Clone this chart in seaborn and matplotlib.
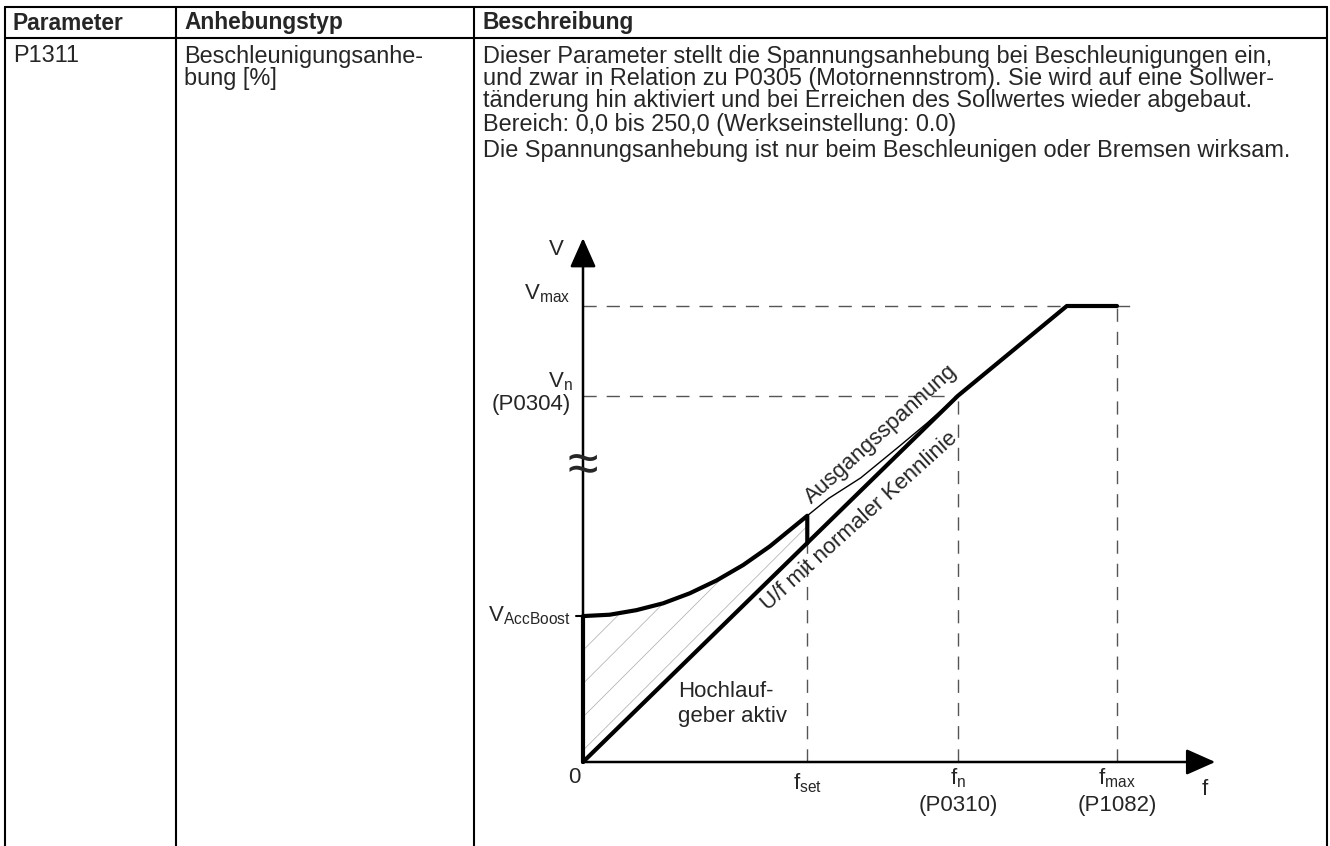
import numpy as np
import matplotlib
matplotlib.use('Agg')
import matplotlib.pyplot as plt
import seaborn as sns

# ── Table content ─────────────────────────────────────────────────────────────
header = ['Parameter', 'Anhebungstyp', 'Beschreibung']
param_name = 'P1311'
boost_type = ['Beschleunigungsanhe-', 'bung [%]']
desc_lines = [
    'Dieser Parameter stellt die Spannungsanhebung bei Beschleunigungen ein,',
    'und zwar in Relation zu P0305 (Motornennstrom). Sie wird auf eine Sollwer-',
    'tänderung hin aktiviert und bei Erreichen des Sollwertes wieder abgebaut.',
]
desc_range = 'Bereich: 0,0 bis 250,0 (Werkseinstellung: 0.0)'
desc_note = 'Die Spannungsanhebung ist nur beim Beschleunigen oder Bremsen wirksam.'

# ── Chart data (f in % of f_max, V in % of V_max) ─────────────────────────────
f_set, f_n, f_max = 42.0, 70.2, 100.0
v_boost, v_n, v_max = 32.0, 80.3, 100.0
v_uf_set = 48.0

# U/f with normal characteristic
uf_f = [0.0, 70.2, 90.6, 100.0]
uf_v = [0.0, 80.3, 100.0, 100.0]

# boost path while ramp generator is active
boost_f = [0.0, 0.0, 5.0, 10.0, 15.0, 20.0, 25.0, 30.0, 35.0, 42.0, 42.0]
boost_v = [0.0, 32.0, 32.3, 33.3, 34.8, 37.0, 39.8, 43.2, 47.3, 54.0, 48.0]

# output voltage after setpoint reached
out_f = [42.0, 46.0, 52.0, 59.4, 64.4, 70.2]
out_v = [54.0, 57.8, 62.3, 69.4, 74.3, 80.3]

W, H = 1330, 846
FS = 16        # chart text
FS_T = 16.9    # table text

sns.set_theme(style='white')
plt.rcParams['font.family'] = ['Liberation Sans', 'DejaVu Sans']
plt.rcParams['mathtext.fontset'] = 'custom'
plt.rcParams['mathtext.rm'] = 'Liberation Sans'
plt.rcParams['hatch.linewidth'] = 0.6

fig = plt.figure(figsize=(W / 100, H / 100), dpi=100)

# ── Table frame (pixel coordinates) ───────────────────────────────────────────
tab = fig.add_axes([0, 0, 1, 1])
tab.set_xlim(0, W); tab.set_ylim(H, 0); tab.axis('off')
col_x = [5, 176, 474, 1327]
top_y, head_y = 7, 38
tab.plot([col_x[0], col_x[-1]], [top_y, top_y], color='black', lw=1.5)
tab.plot([col_x[0], col_x[-1]], [head_y, head_y], color='black', lw=1.5)
for cx in col_x:
    tab.plot([cx, cx], [top_y, H], color='black', lw=1.5)

for cx, txt in zip(col_x[:3], header):
    tab.text(cx + 8, 23, txt, fontsize=FS_T - 0.5, fontweight='bold', va='center', ha='left')

row_y = [56, 78, 100]
tab.text(col_x[0] + 8, row_y[0], param_name, fontsize=FS_T, va='center')
for y, txt in zip(row_y, boost_type):
    tab.text(col_x[1] + 8, y, txt, fontsize=FS_T, va='center')
for y, txt in zip(row_y, desc_lines):
    tab.text(col_x[2] + 9, y, txt, fontsize=FS_T, va='center')
tab.text(col_x[2] + 9, 125, desc_range, fontsize=FS_T, va='center')
tab.text(col_x[2] + 9, 150, desc_note, fontsize=FS_T, va='center')

# ── Chart axes: origin at pixel (583, 762), 5.34 px per f unit, 4.56 px per V unit
ox, oy, pf, pv = 583, 762, 5.34, 4.56
bx0, bx1, by0, by1 = 490, 1260, 225, 830
ax = fig.add_axes([bx0 / W, (H - by1) / H, (bx1 - bx0) / W, (by1 - by0) / H])
ax.set_xlim((bx0 - ox) / pf, (bx1 - ox) / pf)
ax.set_ylim(-(by1 - oy) / pv, (oy - by0) / pv)
ax.axis('off')

dash = dict(color='#555555', lw=1.0, linestyle=(0, (9.5, 7.2)))
ax.plot([0, f_max + 2.5], [v_max, v_max], **dash)
ax.plot([f_max, f_max], [0, v_max], **dash)
ax.plot([0, f_n], [v_n, v_n], **dash)
ax.plot([f_n, f_n], [0, v_n], **dash)
ax.plot([f_set, f_set], [0, v_uf_set], **dash)

# hatched area between boost curve and U/f line
hf = np.array(boost_f[1:-1])
ax.fill_between(hf, boost_v[1:-1], np.interp(hf, uf_f, uf_v),
                facecolor='none', edgecolor='#b8b8b8', hatch='/', linewidth=0)

sns.lineplot(x=out_f, y=out_v, sort=False, estimator=None, color='black', lw=1.0, ax=ax)
sns.lineplot(x=uf_f, y=uf_v, sort=False, estimator=None, color='black', lw=3.0, ax=ax)
sns.lineplot(x=boost_f, y=boost_v, sort=False, estimator=None, color='black', lw=3.0, ax=ax)

# axes with arrows
arr = dict(arrowstyle='-|>,head_length=0.9,head_width=0.4', lw=1.8, color='black',
           shrinkA=0, shrinkB=0, mutation_scale=20)
ax.annotate('', xy=(118.4, 0), xytext=(0, 0), arrowprops=arr)
ax.annotate('', xy=(0, 114.9), xytext=(0, 0), arrowprops=arr)
ax.plot([-1.3, 0], [v_boost, v_boost], color='black', lw=1.5)
ax.text(0, 64.5, '≈', fontsize=40, ha='center', va='center')

# axis labels
ax.text(-4.9, 112.3, 'V', fontsize=FS, ha='center', va='center')
ax.text(-2.4, 102.6, r'V$_\mathregular{max}$', fontsize=FS, ha='right', va='center')
ax.text(-2.0, 83.5, r'V$_\mathregular{n}$', fontsize=FS, ha='right', va='center')
ax.text(-2.2, 78.3, '(P0304)', fontsize=FS, ha='right', va='center')
ax.text(-2.2, v_boost, r'V$_\mathregular{AccBoost}$', fontsize=FS, ha='right', va='center')
ax.text(-1.7, -3.3, '0', fontsize=FS, ha='center', va='center')
ax.text(f_set, -4.6, r'f$_\mathregular{set}$', fontsize=FS, ha='center', va='center')
ax.text(f_n, -3.5, r'f$_\mathregular{n}$', fontsize=FS, ha='center', va='center')
ax.text(f_n, -9.6, '(P0310)', fontsize=FS, ha='center', va='center')
ax.text(f_max, -3.5, r'f$_\mathregular{max}$', fontsize=FS, ha='center', va='center')
ax.text(f_max, -9.6, '(P1082)', fontsize=FS, ha='center', va='center')
ax.text(116.5, -6.1, 'f', fontsize=FS, ha='center', va='center')

ax.text(55.8, 71.8, 'Ausgangsspannung', fontsize=FS, rotation=42,
        rotation_mode='anchor', ha='center', va='center')
ax.text(51.8, 52.8, 'U/f mit normaler Kennlinie', fontsize=FS, rotation=42,
        rotation_mode='anchor', ha='center', va='center')
ax.text(17.8, 15.4, 'Hochlauf-', fontsize=FS, ha='left', va='center')
ax.text(17.8, 9.9, 'geber aktiv', fontsize=FS, ha='left', va='center')

fig.savefig('out.png', dpi=100)
